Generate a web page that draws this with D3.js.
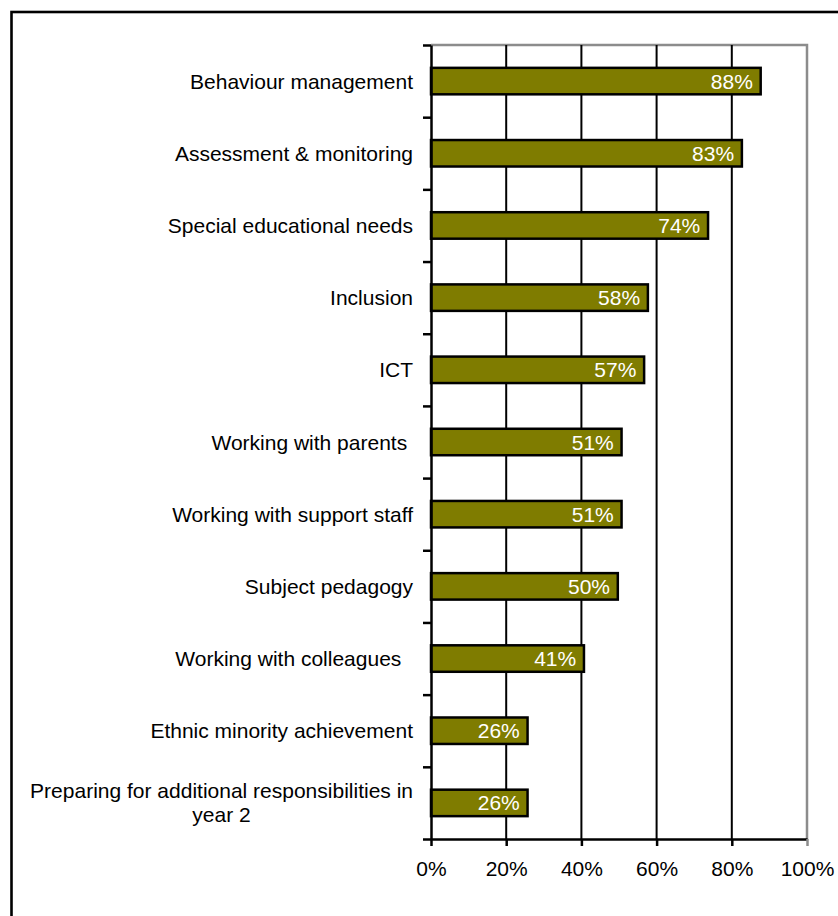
<!DOCTYPE html>
<html>
<head>
<meta charset="utf-8">
<script src="https://cdn.jsdelivr.net/npm/d3@7"></script>
<style>
  html, body { margin: 0; padding: 0; background: #fff; }
  svg { display: block; font-family: Arial, "Liberation Sans", sans-serif; }
  text { white-space: pre; }
</style>
</head>
<body>
<svg id="chart" width="838" height="916"></svg>
<script>
// Share of respondents naming each area
const categories = [
  "Behaviour management",
  "Assessment & monitoring",
  "Special educational needs",
  "Inclusion",
  "ICT",
  "Working with parents ",
  "Working with support staff",
  "Subject pedagogy",
  "Working with colleagues  ",
  "Ethnic minority achievement",
  "Preparing for additional responsibilities in\nyear 2"
];
const values = [0.88, 0.83, 0.74, 0.58, 0.57, 0.51, 0.51, 0.50, 0.41, 0.26, 0.26];
const xTicks = [0, 0.2, 0.4, 0.6, 0.8, 1.0];

const svg = d3.select("#chart");
const plot = { left: 431, right: 807, top: 45, bottom: 839 };
const fontSize = 21;

// outer frame
svg.append("rect")
  .attr("x", 11.5).attr("y", 12)
  .attr("width", 900).attr("height", 1000)
  .attr("fill", "none").attr("stroke", "#000").attr("stroke-width", 2.6);

const x = d3.scaleLinear().domain([0, 1]).range([plot.left, plot.right]);
const y = d3.scaleBand().domain(d3.range(categories.length))
  .range([plot.top, plot.bottom]).paddingInner(0.6).paddingOuter(0.3);
const yEdge = d3.scaleLinear().domain([0, categories.length]).range([plot.top, plot.bottom]);

// plot area border (top and right)
svg.append("path")
  .attr("d", `M${plot.left},${plot.top}H${plot.right}V${plot.bottom}`)
  .attr("fill", "none").attr("stroke", "#8c8c8c").attr("stroke-width", 2.5);

// vertical gridlines
svg.append("g").selectAll("line")
  .data(xTicks.filter(t => t > 0 && t < 1))
  .join("line")
  .attr("x1", d => x(d)).attr("x2", d => x(d))
  .attr("y1", plot.top).attr("y2", plot.bottom)
  .attr("stroke", "#000").attr("stroke-width", 2);

// bars
svg.append("g").selectAll("rect")
  .data(values)
  .join("rect")
  .attr("x", x(0))
  .attr("y", (d, i) => y(i) + 1.2)
  .attr("width", d => x(d) - x(0) - 1.2)
  .attr("height", y.bandwidth() - 2.4)
  .attr("fill", "#7f7c00")
  .attr("stroke", "#000").attr("stroke-width", 2.5);

// value labels
svg.append("g").selectAll("text")
  .data(values)
  .join("text")
  .attr("x", d => x(d) - 9)
  .attr("y", (d, i) => y(i) + y.bandwidth() / 2)
  .attr("dy", "0.36em")
  .attr("text-anchor", "end")
  .attr("fill", "#fff")
  .attr("font-size", fontSize)
  .text(d => d3.format(".0%")(d));

// x axis
const xAxis = svg.append("g")
  .attr("transform", `translate(0,${plot.bottom})`)
  .call(d3.axisBottom(x).tickValues(xTicks).tickFormat(d3.format(".0%")).tickSize(7).tickSizeOuter(0));
xAxis.select(".domain").attr("stroke-width", 2.5);
xAxis.selectAll(".tick line").attr("stroke-width", 2.5);
xAxis.selectAll(".tick").filter(d => d === 1).select("line").attr("stroke", "#8c8c8c");
xAxis.selectAll(".tick text")
  .attr("font-size", fontSize).attr("font-family", "Arial, 'Liberation Sans', sans-serif")
  .attr("fill", "#000").attr("y", 22).attr("dy", "0.71em");

// y axis with ticks at category boundaries
const yAxis = svg.append("g")
  .attr("transform", `translate(${plot.left},0)`)
  .call(d3.axisLeft(yEdge).tickValues(d3.range(categories.length + 1)).tickFormat("").tickSize(8).tickSizeOuter(0));
yAxis.select(".domain").attr("stroke-width", 2.5);
yAxis.selectAll(".tick line").attr("stroke-width", 2.5);

// category labels
const labels = svg.append("g").selectAll("text")
  .data(categories)
  .join("text")
  .attr("font-size", fontSize)
  .attr("fill", "#000");
labels.each(function(d, i) {
  const lines = d.split("\n");
  const t = d3.select(this);
  const cy = y(i) + y.bandwidth() / 2;
  const lh = 24;
  if (lines.length === 1) {
    t.attr("x", plot.left - 18).attr("y", cy).attr("dy", "0.36em")
      .attr("text-anchor", "end").text(d);
  } else {
    // multi-line label: centred block, right edge on the label column
    const tmp = t.append("tspan").text(lines[0]);
    const w = tmp.node().getComputedTextLength();
    tmp.remove();
    const cx = plot.left - 18 - w / 2;
    t.attr("text-anchor", "middle");
    lines.forEach((ln, k) => {
      t.append("tspan")
        .attr("x", cx)
        .attr("y", cy + (k - (lines.length - 1) / 2) * lh)
        .attr("dy", "0.36em")
        .text(ln);
    });
  }
});
</script>
</body>
</html>
